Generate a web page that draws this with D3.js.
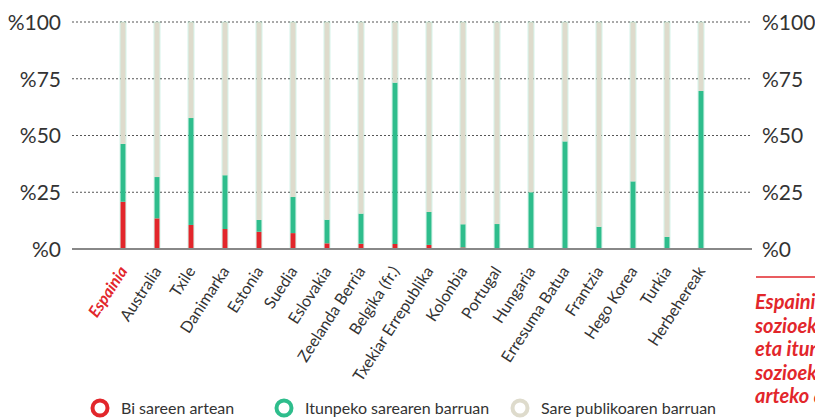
<!DOCTYPE html>
<html><head><meta charset="utf-8">
<script src="https://cdn.jsdelivr.net/npm/d3@7"></script>
<style>body{margin:0;background:#fff;overflow:hidden}svg{display:block;font-family:Lato,"Open Sans",sans-serif}</style>
</head><body><svg id="c" width="815" height="418"></svg>
<script>
const countries = ["Espainia","Australia","Txile","Danimarka","Estonia","Suedia","Eslovakia","Zeelanda Berria","Belgika (fr.)","Txekiar Errepublika","Kolonbia","Portugal","Hungaria","Erresuma Batua","Frantzia","Hego Korea","Turkia","Herbehereak"];
const biSareen = [20.8,13.5,10.6,8.8,7.6,7.0,2.5,2.3,2.2,1.8,0.7,0.4,0,0,0,0,0,0];
const itunpeko = [25.5,18.2,47.1,23.7,5.2,15.9,10.4,13.3,71.1,14.5,10.2,10.6,25.0,47.4,9.8,29.8,5.3,69.6];
const yTicks = [0,25,50,75,100];
const seriesNames = ["Bi sareen artean","Itunpeko sarearen barruan","Sare publikoaren barruan"];
const seriesColors = ["#e2262b","#2ebd8c","#dedbcc"];
const noteLines = ["Espainian","sozioekonomikoki","eta itunpeko","sozioekonomikoki","arteko aldea"];

const svg = d3.select("#c");
const x = d3.scalePoint().domain(countries).range([123,701]);
const y = d3.scaleLinear().domain([0,100]).range([249,22]);

svg.append("g").selectAll("line").data(yTicks.filter(d=>d>0)).join("line")
  .attr("x1",72).attr("x2",752).attr("y1",d=>y(d)).attr("y2",d=>y(d))
  .attr("stroke","#555").attr("stroke-width",1).attr("stroke-dasharray","2,2");

const data = countries.map((c,i)=>({c, a:biSareen[i], b:itunpeko[i], g:100-biSareen[i]-itunpeko[i]}));
const stack = d3.stack().keys(["a","b","g"])(data);
const bw = 5;
svg.append("g").selectAll("g").data(stack).join("g")
  .attr("fill",(d,i)=>seriesColors[i])
  .selectAll("rect").data(d=>d).join("rect")
  .attr("x",d=>x(d.data.c)-bw/2).attr("width",bw)
  .attr("y",d=>y(d[1])).attr("height",d=>Math.max(0,y(d[0])-y(d[1])));
svg.append("g").selectAll("rect").data(data).join("rect")
  .attr("x",d=>x(d.c)-bw/2-0.5).attr("width",bw+1)
  .attr("y",y(100)).attr("height",y(0)-y(100))
  .attr("fill","none").attr("stroke","#2ebd8c").attr("stroke-opacity",0.2).attr("stroke-width",1);

svg.append("line").attr("x1",72).attr("x2",752).attr("y1",y(0)).attr("y2",y(0))
  .attr("stroke","#888").attr("stroke-width",2);

const yl = svg.append("g").attr("transform","translate(61,0)")
  .call(d3.axisLeft(y).tickValues(yTicks).tickSize(0).tickPadding(0).tickFormat(d=>"%"+d));
const yr = svg.append("g").attr("transform","translate(762,0)")
  .call(d3.axisRight(y).tickValues(yTicks).tickSize(0).tickPadding(0).tickFormat(d=>"%"+d));
[yl,yr].forEach(g=>{g.select(".domain").remove();
  g.selectAll("text").attr("font-size",21).attr("fill","#333").attr("font-family","Lato").attr("dy","0.35em");});

svg.append("g").selectAll("text").data(countries).join("text")
  .attr("transform",d=>`translate(${x(d)+5},${271}) rotate(-57)`)
  .attr("text-anchor","end").attr("font-size",16)
  .attr("fill",(d,i)=>i===0?"#e2262b":"#333")
  .attr("font-weight",(d,i)=>i===0?"bold":"normal")
  .attr("font-style",(d,i)=>i===0?"italic":"normal")
  .text(d=>d);

const lx = [100,284,520];
const lg = svg.append("g").selectAll("g").data(seriesNames).join("g")
  .attr("transform",(d,i)=>`translate(${lx[i]},408)`);
lg.append("circle").attr("r",7.5).attr("fill","none").attr("stroke",(d,i)=>seriesColors[i]).attr("stroke-width",4);
lg.append("text").attr("x",21).attr("dy","0.35em").attr("font-size",16).attr("fill","#333").text(d=>d);

svg.append("line").attr("x1",756).attr("x2",815).attr("y1",277).attr("y2",277).attr("stroke","#e2262b").attr("stroke-width",1.5);
svg.append("g").selectAll("text").data(noteLines).join("text")
  .attr("x",755).attr("y",(d,i)=>309+i*23.5)
  .attr("font-size",20).attr("font-weight","bold").attr("font-style","italic").attr("fill","#e2262b")
  .text(d=>d);
</script></body></html>
